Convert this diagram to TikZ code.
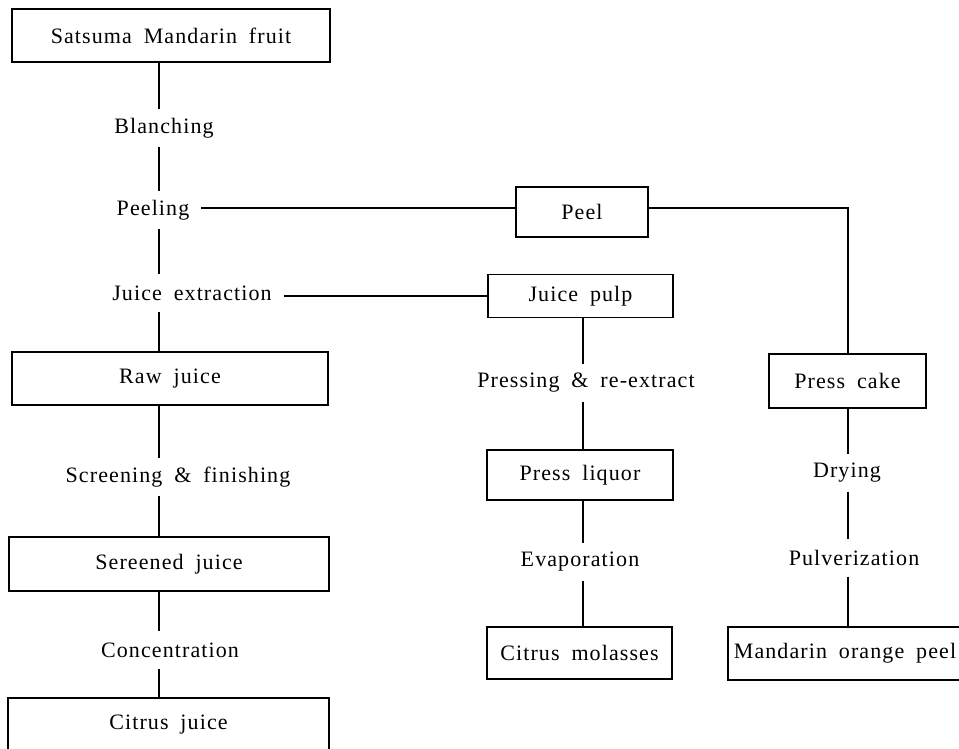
\documentclass[tikz,border=0pt]{standalone}
\usepackage{fontspec}
\setmainfont{Liberation Serif}[LetterSpace=5,WordSpace=1.8]
\begin{document}
\begin{tikzpicture}[x=1pt,y=-1pt,
  every node/.style={font=\fontsize{22}{26}\selectfont},
  box/.style n args={2}{draw,line width=1.6pt,minimum width=#1,minimum height=#2,inner sep=0pt},
  lbl/.style={inner xsep=12pt,inner ysep=0pt,minimum height=37pt},
  conn/.style={line width=1.6pt}]
\useasboundingbox (0,0) rectangle (959,749);
\begin{scope}
\clip (0,0) rectangle (959,749);
% column guides
\coordinate (colA) at (159,0);
\coordinate (colB) at (583,0);
\coordinate (colC) at (848,0);
% left column
\node[box={318pt}{53pt}] (sat) at (171,35.5) {Satsuma Mandarin fruit};
\node[lbl] (blanch) at (164,128) {Blanching};
\node[lbl] (peeling) at (153,210) {Peeling};
\node[lbl] (jext) at (192,293) {Juice extraction};
\node[box={316pt}{53pt}] (raw) at (170,378.5) {Raw juice};
\node[lbl] (screen) at (178,477) {Screening \& finishing};
\node[box={320pt}{54pt}] (sereened) at (169,564) {Sereened juice};
\node[lbl] (conc) at (170,650) {Concentration};
\node[box={321pt}{54pt}] (citjuice) at (168.5,725) {Citrus juice};
% middle column
\node[box={132pt}{50pt}] (peel) at (582,212) {Peel};
\node[box={185pt}{43pt}] (pulp) at (580.5,296) {Juice pulp};
\node[lbl] (press) at (586,383) {Pressing \& re-extract};
\node[box={186pt}{50pt}] (liquor) at (580,475) {Press liquor};
\node[lbl] (evap) at (580,562) {Evaporation};
\node[box={185pt}{52pt}] (molasses) at (579.5,653) {Citrus molasses};
% right column
\node[box={157pt}{54pt}] (cake) at (847.5,381) {Press cake};
\node[lbl] (dry) at (847,473) {Drying};
\node[lbl] (pulv) at (854,558) {Pulverization};
\node[box={234pt}{53pt}] (mop) at (845,653.5) {Mandarin orange peel};
% connectors, left
\draw[conn] (colA |- sat.south) -- (colA |- blanch.north);
\draw[conn] (colA |- blanch.south) -- (colA |- peeling.north);
\draw[conn] (colA |- peeling.south) -- (colA |- jext.north);
\draw[conn] (colA |- jext.south) -- (colA |- raw.north);
\draw[conn] (colA |- raw.south) -- (colA |- screen.north);
\draw[conn] (colA |- screen.south) -- (colA |- sereened.north);
\draw[conn] (colA |- sereened.south) -- (colA |- conc.north);
\draw[conn] (colA |- conc.south) -- (colA |- citjuice.north);
% branches
\draw[conn] (peeling.east |- 0,208) -- (peel.west |- 0,208);
\draw[conn] (jext.east |- pulp.west) -- (pulp.west);
\draw[conn] (peel.east |- 0,208) -- (colC |- 0,208) -- (colC |- cake.north);
% middle
\draw[conn] (colB |- pulp.south) -- (colB |- press.north);
\draw[conn] (colB |- press.south) -- (colB |- liquor.north);
\draw[conn] (colB |- liquor.south) -- (colB |- evap.north);
\draw[conn] (colB |- evap.south) -- (colB |- molasses.north);
% right
\draw[conn] (colC |- cake.south) -- (colC |- dry.north);
\draw[conn] (colC |- dry.south) -- (colC |- pulv.north);
\draw[conn] (colC |- pulv.south) -- (colC |- mop.north);
\end{scope}
\end{tikzpicture}
\end{document}
